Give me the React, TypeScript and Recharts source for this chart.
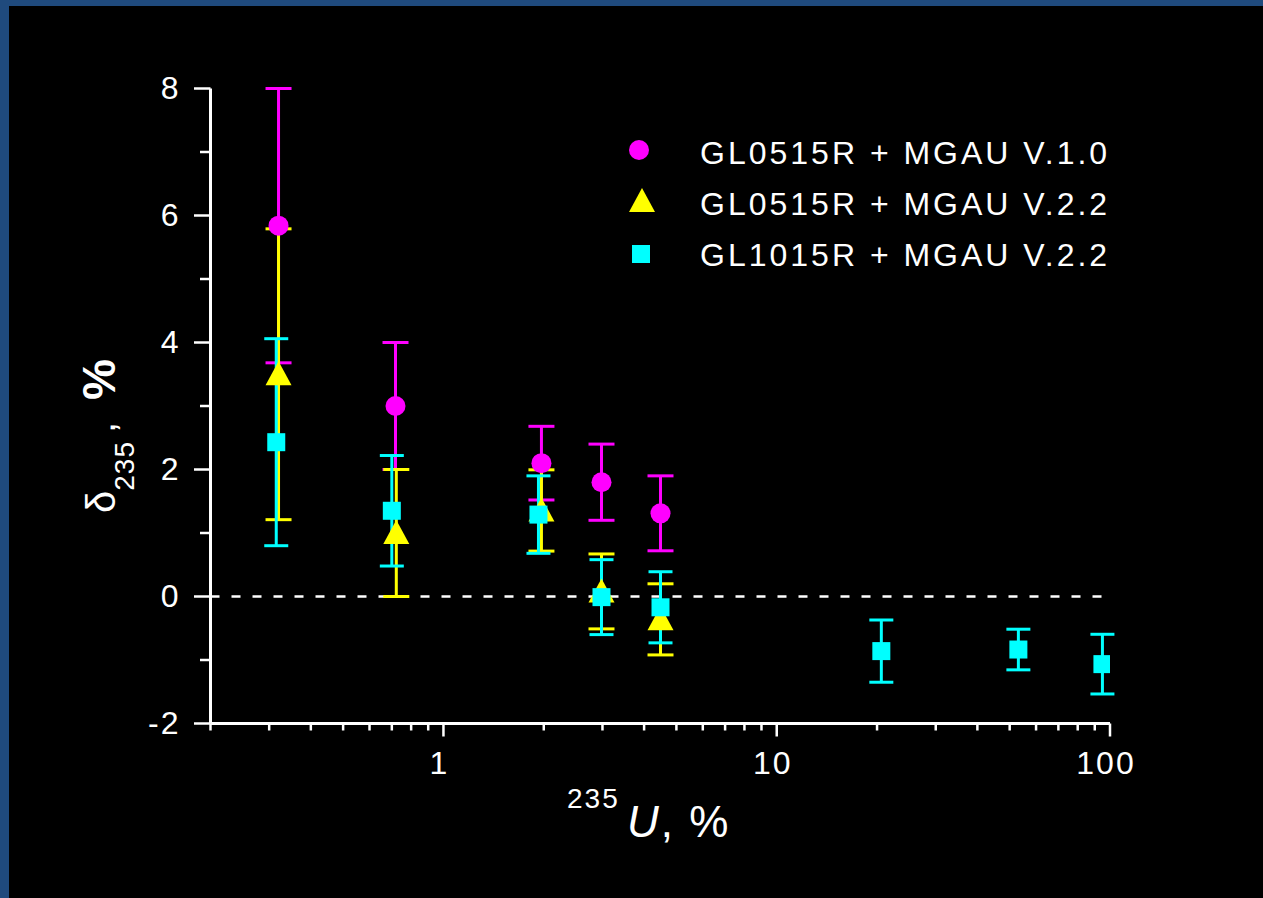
import React from 'react';
import { ScatterChart, Scatter, XAxis, YAxis, ErrorBar, ReferenceLine, Legend } from 'recharts';

// GL0515R + MGAU V.1.0 (magenta circles)
const v10X = [0.32, 0.718, 1.968, 2.98, 4.48];
const v10Y = [5.84, 3.0, 2.1, 1.8, 1.31];
const v10Err = [2.16, 1.0, 0.58, 0.6, 0.59];

// GL0515R + MGAU V.2.2 (yellow triangles)
const g05X = [0.32, 0.722, 1.968, 2.98, 4.48];
const g05Y = [3.5, 1.0, 1.355, 0.08, -0.36];
const g05Err = [2.29, 1.0, 0.64, 0.59, 0.56];

// GL1015R + MGAU V.2.2 (cyan squares)
const g10X = [0.315, 0.7, 1.928, 2.98, 4.48, 20.6, 53.1, 94.9];
const g10Y = [2.43, 1.35, 1.29, -0.01, -0.17, -0.86, -0.835, -1.065];
const g10Err = [1.63, 0.87, 0.61, 0.59, 0.56, 0.49, 0.32, 0.47];

const seriesNames = ['GL0515R + MGAU V.1.0', 'GL0515R + MGAU V.2.2', 'GL1015R + MGAU V.2.2'];
const seriesColors = ['#ff00ff', '#ffff00', '#00ffff'];

const xTicks = [0.2, 0.3, 0.4, 0.5, 0.6, 0.7, 0.8, 0.9, 1, 2, 3, 4, 5, 6, 7, 8, 9, 10, 20, 30, 40, 50, 60, 70, 80, 90, 100];
const xLabeled = [1, 10, 100];
const yTicks = [-2, -1, 0, 1, 2, 3, 4, 5, 6, 7, 8];
const yLabeled = [-2, 0, 2, 4, 6, 8];

const FONT = '"Liberation Sans", Arial, sans-serif';

const build = (xs: number[], ys: number[], es: number[]) => xs.map((x, i) => ({ x, y: ys[i], err: es[i] }));
const v10Data = build(v10X, v10Y, v10Err);
const g05Data = build(g05X, g05Y, g05Err);
const g10Data = build(g10X, g10Y, g10Err);

const CircleShape = (p: any) => <circle cx={p.cx} cy={p.cy} r={10} fill={seriesColors[0]} />;
const TriShape = (p: any) => (
  <polygon points={`${p.cx},${p.cy - 13} ${p.cx - 13},${p.cy + 11} ${p.cx + 13},${p.cy + 11}`} fill={seriesColors[1]} />
);
const SquareShape = (p: any) => <rect x={p.cx - 9} y={p.cy - 9} width={18} height={18} fill={seriesColors[2]} />;

const XTick = (props: any) => {
  const { x, y, payload } = props;
  const v = payload.value;
  const major = xLabeled.includes(v);
  return (
    <g>
      <line x1={x} y1={y} x2={x} y2={y + (major ? 13 : 7)} stroke="#fff" strokeWidth={2.5} />
      {major && (
        <text x={x - 4} y={y + 50} textAnchor="middle" fill="#fff" fontSize={32} fontFamily={FONT} letterSpacing={2}>
          {v}
        </text>
      )}
    </g>
  );
};

const YTick = (props: any) => {
  const { x, y, payload } = props;
  const v = payload.value;
  const major = yLabeled.includes(v);
  return (
    <g>
      <line x1={x} y1={y} x2={x - (major ? 16.5 : 10.5)} y2={y} stroke="#fff" strokeWidth={2.5} />
      {major && (
        <text x={x - 30} y={y + 10.5} textAnchor="end" fill="#fff" fontSize={32} fontFamily={FONT} letterSpacing={2}>
          {v}
        </text>
      )}
    </g>
  );
};

const renderLegend = () => (
  <svg width={540} height={160} style={{ display: 'block' }}>
    <circle cx={39} cy={30} r={10} fill={seriesColors[0]} />
    <polygon points="42,68 29,92 55,92" fill={seriesColors[1]} />
    <rect x={32} y={125} width={18} height={18} fill={seriesColors[2]} />
    {seriesNames.map((n, i) => (
      <text key={n} x={100} y={44 + i * 51} fill="#fff" fontSize={32} fontFamily={FONT} letterSpacing={3}>
        {n}
      </text>
    ))}
  </svg>
);

export default function App() {
  return (
    <div style={{ position: 'fixed', left: 0, top: 0, width: 1263, height: 898, background: '#1f4a7d', overflow: 'hidden' }}>
      <div style={{ position: 'absolute', left: 9, top: 6, right: 0, bottom: 0, background: '#000' }} />
      <div style={{ position: 'absolute', left: 0, top: 0 }}>
        <ScatterChart width={1263} height={898} margin={{ top: 88.5, right: 153, bottom: 114.5, left: 110.5 }}>
          <XAxis
            dataKey="x"
            type="number"
            scale="log"
            domain={[0.2, 100]}
            allowDataOverflow
            ticks={xTicks}
            interval={0}
            height={60}
            tickSize={0}
            tickMargin={0}
            tickLine={false}
            axisLine={{ stroke: '#fff', strokeWidth: 3 }}
            tick={<XTick />}
          />
          <YAxis
            dataKey="y"
            type="number"
            domain={[-2, 8]}
            allowDataOverflow
            ticks={yTicks}
            interval={0}
            width={100}
            tickSize={0}
            tickMargin={0}
            tickLine={false}
            axisLine={{ stroke: '#fff', strokeWidth: 3 }}
            tick={<YTick />}
          />
          <ReferenceLine y={0} stroke="#fff" strokeWidth={2.5} strokeDasharray="9 12" />
          <Legend
            layout="vertical"
            align="center"
            verticalAlign="middle"
            content={renderLegend}
            wrapperStyle={{ left: 600, top: 120, width: 540, height: 160 }}
          />
          <Scatter name={seriesNames[0]} data={v10Data} shape={CircleShape} isAnimationActive={false}>
            <ErrorBar dataKey="err" direction="y" width={13} strokeWidth={3} stroke={seriesColors[0]} isAnimationActive={false} />
          </Scatter>
          <Scatter name={seriesNames[1]} data={g05Data} shape={TriShape} isAnimationActive={false}>
            <ErrorBar dataKey="err" direction="y" width={13} strokeWidth={3} stroke={seriesColors[1]} isAnimationActive={false} />
          </Scatter>
          <Scatter name={seriesNames[2]} data={g10Data} shape={SquareShape} isAnimationActive={false}>
            <ErrorBar dataKey="err" direction="y" width={12} strokeWidth={3} stroke={seriesColors[2]} isAnimationActive={false} />
          </Scatter>
        </ScatterChart>
      </div>
      <svg width={1263} height={898} style={{ position: 'absolute', left: 0, top: 0, pointerEvents: 'none' }}>
        <text x={115} y={513} transform="rotate(-90 115 513)" fill="#fff" fontFamily={FONT}>
          <tspan fontSize={40}>δ</tspan>
          <tspan fontSize={28} dy={19} letterSpacing={1}>235</tspan>
          <tspan fontSize={40} dy={-19} dx={8}>,</tspan>
          <tspan fontSize={46} fontWeight="bold" dx={22}>%</tspan>
        </text>
        <text x={567} y={808} fill="#fff" fontFamily={FONT} fontSize={28} letterSpacing={2}>235</text>
        <text x={627} y={837} fill="#fff" fontFamily={FONT} fontSize={44} letterSpacing={2}>
          <tspan fontStyle="italic">U</tspan>
          <tspan>, %</tspan>
        </text>
      </svg>
    </div>
  );
}
